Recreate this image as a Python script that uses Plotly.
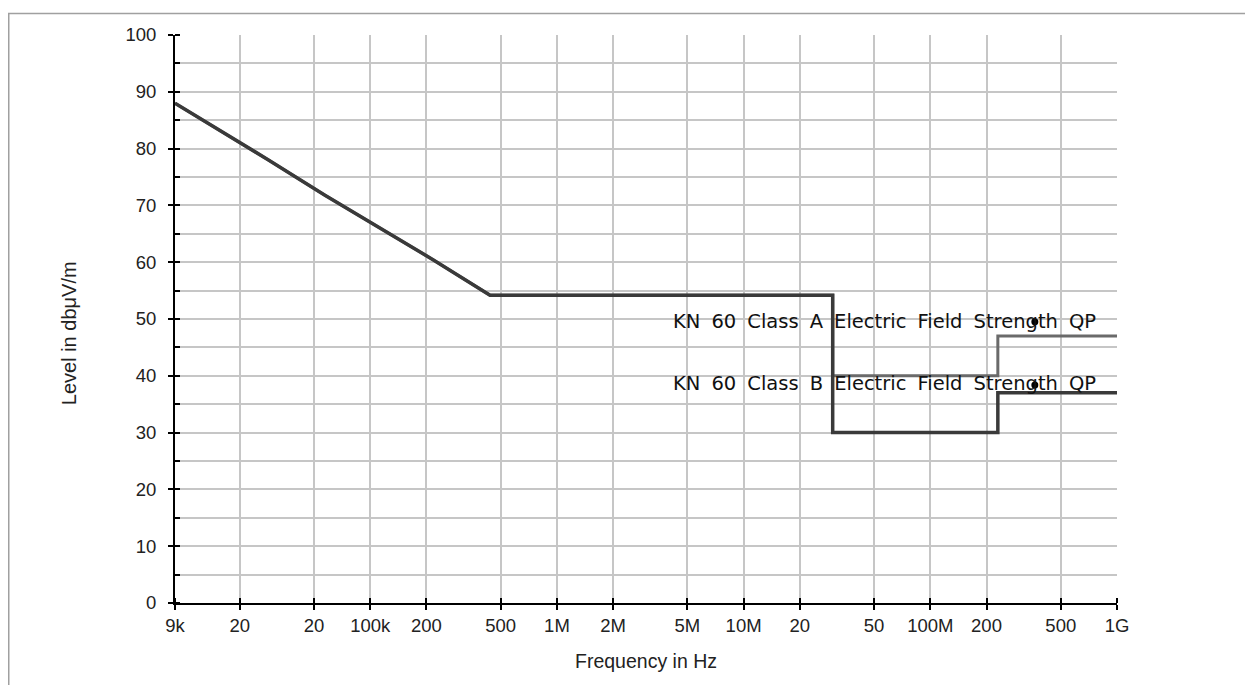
import math
import plotly.graph_objects as go

# ---- data ----
slope_freq_hz = [9e3, 15.05e3, 28.5e3, 57.2e3, 113e3, 218e3, 438e3]
slope_level = [88.0, 83.6, 78.0, 71.8, 66.0, 60.4, 54.2]

classA_freq_hz = [30e6, 30e6, 230e6, 230e6, 1e9]
classA_level = [54.2, 40.0, 40.0, 47.0, 47.0]

classB_freq_hz = [30e6, 30e6, 230e6, 230e6, 1e9]
classB_level = [54.2, 30.0, 30.0, 37.0, 37.0]

label_texts = ["KN 60 Class A Electric Field Strength QP",
               "KN 60 Class B Electric Field Strength QP"]
label_levels = [49.6, 38.6]
label_right_hz = 7.9e8
label_dot_hz = [3.63e8, 3.63e8]
label_dot_level = [49.5, 38.4]

x_tickvals = [9e3, 2e4, 5e4, 1e5, 2e5, 5e5, 1e6, 2e6, 5e6, 1e7, 2e7, 5e7,
              1e8, 2e8, 5e8, 1e9]
x_ticktext = ["9k", "20", "20", "100k", "200", "500", "1M", "2M", "5M",
              "10M", "20", "50", "100M", "200", "500", "1G"]
y_tickvals = list(range(0, 101, 5))
y_ticktext = [str(v) if v % 10 == 0 else "" for v in y_tickvals]

# page body has an 8px margin, so the figure is sized to fit inside it
W, H = 1245, 677
ML, MR, MT, MB = 167, 136, 27, 82
PW, PH = W - ML - MR, H - MT - MB

fig = go.Figure()

fig.add_trace(go.Scatter(
    x=slope_freq_hz + classA_freq_hz, y=slope_level + classA_level,
    mode="lines", line=dict(color="#6a6a6a", width=3),
    showlegend=False, hoverinfo="skip"))
fig.add_trace(go.Scatter(
    x=slope_freq_hz + classB_freq_hz, y=slope_level + classB_level,
    mode="lines", line=dict(color="#3a3a3a", width=3.5),
    showlegend=False, hoverinfo="skip"))
fig.add_trace(go.Scatter(
    x=label_dot_hz, y=label_dot_level, mode="markers",
    marker=dict(color="#000000", size=7),
    showlegend=False, hoverinfo="skip"))

WS = " \u2005"  # slightly wider word spacing, as in the reference
for txt, lvl in zip(label_texts, label_levels):
    fig.add_annotation(x=math.log10(label_right_hz), y=lvl,
                       text=txt.replace(" ", WS),
                       xref="x", yref="y", xanchor="right", yanchor="middle",
                       showarrow=False,
                       font=dict(family="DejaVu Sans", size=19.5, color="#111111"))

fig.add_annotation(x=0.5, y=(PH - (661 - 8 - MT)) / PH, xref="paper", yref="paper",
                   text="Frequency in Hz", showarrow=False,
                   xanchor="center", yanchor="middle",
                   font=dict(family="Liberation Sans", size=19.5, color="#222222"))
fig.add_annotation(x=(69 - 8 - ML) / PW, y=0.475, xref="paper", yref="paper",
                   text="Level in dbμV/m", showarrow=False, textangle=-90,
                   xanchor="center", yanchor="middle",
                   font=dict(family="Liberation Sans", size=20, color="#222222"))

# outer frame
fig.add_shape(type="rect", xref="paper", yref="paper",
              x0=(0.75 - ML) / PW, x1=(1241 - ML) / PW,
              y0=-0.3, y1=(PH + MT - 5.5) / PH,
              line=dict(color="#a0a0a0", width=1.5), layer="below")

fig.update_layout(
    width=W, height=H,
    margin=dict(l=ML, r=MR, t=MT, b=MB, autoexpand=False),
    paper_bgcolor="white", plot_bgcolor="white",
    font=dict(family="Liberation Sans", size=18.5, color="#222222"),
)
fig.update_xaxes(
    type="log", range=[math.log10(9e3), math.log10(1e9)],
    tickmode="array", tickvals=x_tickvals, ticktext=x_ticktext,
    showgrid=True, gridcolor="#c6c6c6", gridwidth=1.8,
    showline=True, linecolor="#000000", linewidth=2,
    ticks="outside", ticklen=5, tickwidth=2, tickcolor="#000000",
    minor=dict(tickmode="array", tickvals=x_tickvals, ticks="inside",
               ticklen=5, tickwidth=2, tickcolor="#000000", showgrid=False),
    tickfont=dict(size=18.5), zeroline=False, automargin=False,
)
fig.update_yaxes(
    range=[0, 100],
    tickmode="array", tickvals=y_tickvals, ticktext=y_ticktext,
    showgrid=True, gridcolor="#c6c6c6", gridwidth=1.8,
    showline=True, linecolor="#000000", linewidth=2,
    ticks="outside", ticklen=5, tickwidth=2, tickcolor="#000000",
    minor=dict(tickmode="array", tickvals=y_tickvals, ticks="inside",
               ticklen=5, tickwidth=2, tickcolor="#000000", showgrid=False),
    tickfont=dict(size=18.5), ticklabelstandoff=8, zeroline=False,
    automargin=False,
)

fig.write_html("out.html")
